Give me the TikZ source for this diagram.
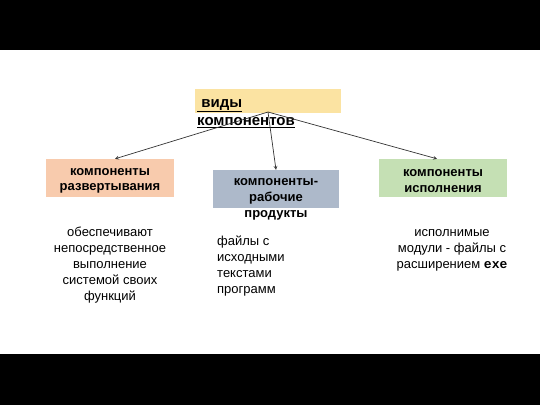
\documentclass[tikz,border=0pt]{standalone}
\usepackage{fontspec}
\setmainfont{Liberation Sans}
\setmonofont{Liberation Mono}
\usepackage{xcolor}
\usetikzlibrary{positioning, arrows.meta}

\definecolor{topfill}{HTML}{FBE3A2}
\definecolor{devfill}{HTML}{F8CBAD}
\definecolor{prodfill}{HTML}{ADB9CA}
\definecolor{execfill}{HTML}{C5E0B4}

\tikzset{
    compbox/.style={minimum width=128pt, minimum height=38pt, inner sep=0pt},
    boxtext/.style={inner sep=0pt, align=center, font=\fontsize{13}{15.5}\selectfont\bfseries},
    desc/.style={inner sep=0pt, font=\fontsize{13}{16}\selectfont},
    link/.style={->, >=stealth, line width=0.7pt, draw=black!80}
}

\begin{document}
\begin{tikzpicture}[x=1pt, y=-1pt]
        \useasboundingbox (0,0) rectangle (540,405);
        % черные полосы
        \fill[black] (0,0) rectangle (540,50);
        \fill[black] (0,354) rectangle (540,405);

        % верхний блок
        \node[fill=topfill, minimum width=146pt, minimum height=24pt, inner sep=0pt] (types) at (268,101) {};
        \node[anchor=north west, inner sep=0pt, align=left, font=\fontsize{15}{18.5}\selectfont\bfseries]
            (typeslbl) at (197,99) {\underline{\ виды}\\\underline{компонентов}};
        \coordinate (src) at (268,112);

        % компоненты
        \node[compbox, fill=devfill] (dev) at (110,178) {};
        \node[boxtext] (devlbl) at (110,181) {компоненты\\развертывания};
        \node[compbox, fill=prodfill, minimum width=126pt] (prod) at (276,189) {};
        \node[boxtext, font=\fontsize{13}{16}\selectfont\bfseries] (prodlbl) at (276,199) {компоненты-\\рабочие\\продукты};
        \node[compbox, fill=execfill] (exec) at (443,178) {};
        \node[boxtext] (execlbl) at (443,181) {компоненты\\исполнения};

        \draw[link] (src) -- ([xshift=5pt]dev.north);
        \draw[link] (src) -- (prod.north);
        \draw[link] (src) -- ([xshift=-6pt]exec.north);

        % пояснения
        \node[desc, align=center] (devtxt) at (110,265) {обеспечивают\\непосредственное\\выполнение\\системой своих\\функций};
        \node[desc, align=left, anchor=west] (prodtxt) at (217,266.5) {файлы с\\исходными\\текстами\\программ};
        \node[desc, align=center] (exectxt) at (452,250) {исполнимые\\модули - файлы с\\расширением \texttt{\bfseries exe}};
    \end{tikzpicture}
\end{document}
